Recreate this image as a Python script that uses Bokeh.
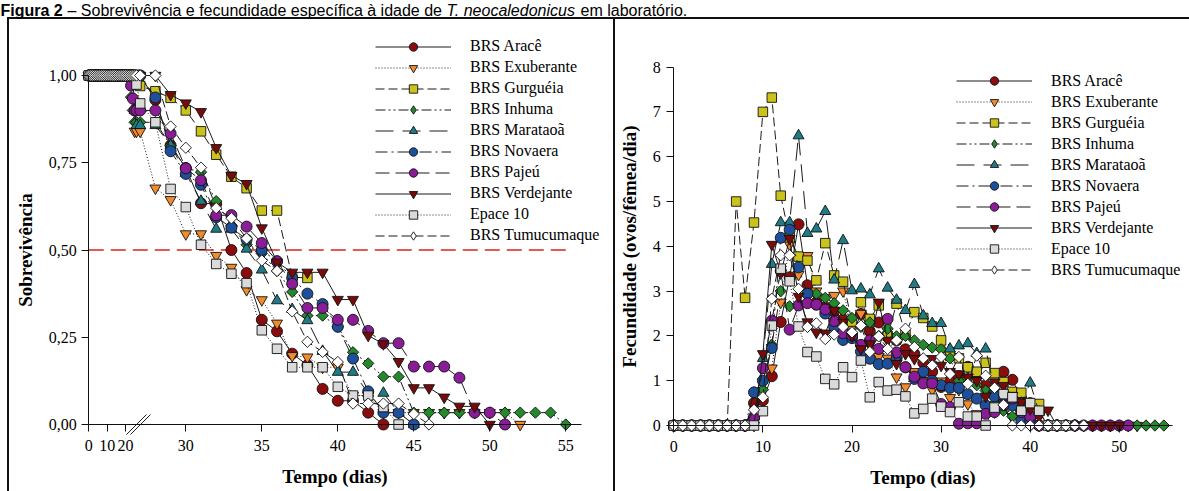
import math
from bokeh.plotting import figure
from bokeh.models import (Range1d, LinearAxis, FixedTicker, CustomJSTickFormatter,
                          Legend, LegendItem)
from bokeh.core.properties import value
from bokeh.embed import file_html
from bokeh.resources import INLINE

# ---------------------------------------------------------------- data
cultivars = ["BRS Aracê", "BRS Exuberante", "BRS Gurguéia", "BRS Inhuma", "BRS Marataoã",
             "BRS Novaera", "BRS Pajeú", "BRS Verdejante", "Epace 10", "BRS Tumucumaque"]

# survival (proportion alive), one value per day starting at day 0
surv_arace = [1.0] * 28 + [0.93, 0.80, 0.735, 0.634, 0.632, 0.50, 0.434, 0.30, 0.267, 0.203,
                           0.17, 0.102, 0.068, 0.068, 0.034, 0.0]
surv_exuberante = [1.0] * 25 + [0.84, 0.84, 0.84, 0.677, 0.644, 0.546, 0.546, 0.484, 0.45, 0.386,
                                0.357, 0.29, 0.197, 0.193, 0.164, 0.164, 0.083, 0.083, 0.034, 0.034,
                                0.034, 0.034, 0.034, 0.034, 0.034, 0.034, 0.034, 0.0]
surv_gurgueia = [1.0] * 27 + [0.97, 0.955, 0.936, 0.90, 0.84, 0.773, 0.71, 0.677, 0.613, 0.613,
                              0.422, 0.42]
surv_inhuma = [1.0] * 23 + [0.938, 0.90, 0.866, 0.866, 0.866, 0.866, 0.80, 0.735, 0.723, 0.64,
                            0.57, 0.515, 0.49, 0.44, 0.38, 0.312, 0.312, 0.28, 0.207, 0.175,
                            0.137, 0.137, 0.034, 0.034, 0.034, 0.034, 0.034, 0.034, 0.034, 0.034,
                            0.034, 0.034, 0.0]
surv_marataoa = [1.0] * 25 + [0.90, 0.857, 0.857, 0.857, 0.80, 0.72, 0.64, 0.56, 0.56, 0.503,
                              0.443, 0.355, 0.33, 0.298, 0.21, 0.15, 0.15, 0.09, 0.09, 0.034, 0.0]
surv_novaera = [1.0] * 28 + [0.937, 0.783, 0.718, 0.687, 0.594, 0.564, 0.53, 0.50, 0.467, 0.42,
                             0.375, 0.345, 0.28, 0.189, 0.095, 0.034, 0.034, 0.0]
surv_pajeu = [1.0] * 23 + [0.971, 0.934, 0.90, 0.90, 0.90, 0.90, 0.834, 0.734, 0.70, 0.599, 0.60,
                           0.567, 0.52, 0.468, 0.403, 0.334, 0.334, 0.30, 0.30, 0.268, 0.233,
                           0.233, 0.166, 0.166, 0.166, 0.134, 0.034, 0.034, 0.0]
surv_verdejante = [1.0] * 29 + [0.945, 0.921, 0.896, 0.793, 0.713, 0.69, 0.563, 0.465, 0.436,
                                0.436, 0.436, 0.358, 0.358, 0.255, 0.231, 0.18, 0.105, 0.105,
                                0.078, 0.052, 0.052, 0.0]
surv_epace10 = [1.0] * 26 + [0.974, 0.92, 0.866, 0.675, 0.623, 0.515, 0.46, 0.432, 0.405, 0.27,
                             0.217, 0.164, 0.164, 0.164, 0.108, 0.083, 0.083, 0.05, 0.0]
surv_tumucumaque = [1.0] * 29 + [0.854, 0.793, 0.736, 0.62, 0.591, 0.533, 0.47, 0.44, 0.324,
                                 0.237, 0.208, 0.179, 0.06, 0.06, 0.06, 0.06, 0.03, 0.0]

# fecundity (eggs/female/day), one value per day starting at day 0
fec_arace = [0.0] * 9 + [0.5, 0.56, 1.10, 2.31, 3.31, 4.49, 3.13, 2.75, 2.64, 2.55, 2.37, 2.0,
                         2.49, 2.10, 2.3, 2.0, 1.9, 1.7, 1.6, 1.4, 1.2, 0.86, 1.0, 1.1, 1.31, 1.11,
                         0.9, 0.8, 1.2, 1.02, 0.6, 0.5, 0.3, 0.0, 0.0]
fec_exuberante = [0.0] * 9 + [0.1, 0.97, 1.28, 2.75, 4.04, 3.37, 3.79, 3.0, 2.85, 2.90, 3.0, 2.2,
                              2.5, 1.8, 1.54, 1.5, 1.08, 0.86, 1.2, 1.0, 0.8, 0.99, 0.62, 0.8,
                              0.48, 0.26, 0.4, 0.3, 0.5, 0.2, 0.3, 0.1] + [0.0] * 12
fec_gurgueia = [0.0] * 7 + [5.0, 2.85, 4.53, 7.0, 7.32, 5.13, 4.2, 3.77, 3.68, 3.24, 4.07, 3.35,
                            3.21, 2.32, 2.75, 2.38, 2.68, 2.0, 2.72, 2.03, 2.53, 2.40, 2.21, 1.9,
                            1.56, 1.5, 1.3, 1.2, 1.40, 1.17, 0.97, 0.75, 0.73, 0.28, 0.48]
fec_inhuma = [0.0] * 9 + [0.2, 0.8, 1.8, 3.0, 2.66, 2.7, 2.95, 2.94, 2.85, 2.73, 2.57, 2.4, 2.2,
                          2.3, 2.0, 2.16, 1.99, 2.0, 1.9, 1.8, 1.74, 1.70, 1.5, 1.0, 1.05, 0.9,
                          0.78, 0.5, 0.33, 0.2, 0.15] + [0.0] * 16
fec_marataoa = [0.0] * 9 + [0.2, 1.5, 3.6, 4.53, 4.53, 6.47, 4.29, 4.39, 4.78, 3.25, 4.13, 3.01,
                            3.05, 2.92, 3.50, 3.07, 2.8, 2.57, 3.15, 2.45, 2.28, 2.28, 1.71, 1.78,
                            1.83, 1.61, 1.71, 0.8, 0.7, 0.6, 0.5, 0.95, 0.3] + [0.0] * 4
fec_novaera = [0.0] * 9 + [0.74, 1.0, 1.73, 4.19, 4.37, 3.53, 2.94, 2.70, 2.5, 2.2, 1.91, 1.95,
                           1.65, 1.49, 1.37, 1.38, 1.49, 1.3, 1.04, 1.2, 1.0, 0.9, 0.84, 0.84, 0.7,
                           0.6, 0.45, 0.65, 0.5, 0.45, 0.11, 0.1] + [0.0] * 5
fec_pajeu = [0.0] * 9 + [0.17, 1.28, 2.34, 3.45, 2.14, 2.68, 2.73, 2.70, 2.59, 2.33, 2.06, 2.01,
                         1.8, 1.9, 1.71, 2.38, 1.63, 1.30, 1.09, 0.94, 0.94, 0.48, 0.41, 0.04,
                         0.05, 0.05, 0.26, 0.3, 0.45, 0.6, 0.3, 0.2] + [0.0] * 11
fec_verdejante = [0.0] * 10 + [1.6, 4.04, 3.4, 4.17, 2.88, 2.31, 2.08, 2.06, 2.57, 2.3, 2.0, 1.71,
                               1.82, 2.75, 1.9, 1.38, 1.6, 1.49, 1.49, 1.49, 1.34, 1.2, 1.15,
                               1.08, 1.0, 0.65, 0.97, 0.89, 0.67, 0.52, 0.37, 0.2, 0.34] + [0.0] * 8
fec_epace10 = [0.0] * 10 + [0.32, 2.23, 3.50, 3.22, 2.21, 1.64, 1.54, 1.04, 0.92, 1.30, 1.08,
                            1.45, 0.63, 0.97, 0.78, 0.80, 0.65, 0.27, 0.37, 0.6, 0.42, 0.30, 0.52,
                            0.2, 0.2, 0.0, 0.4, 0.7, 0.63, 0.33, 0.5, 0.33] + [0.0] * 3
fec_tumucumaque = [0.0] * 9 + [0.35, 0.63, 2.83, 3.80, 3.80, 3.05, 2.20, 2.28, 1.93, 2.03, 2.2,
                               2.08, 2.23, 1.64, 1.99, 1.71, 1.9, 2.16, 1.75, 1.5, 1.34, 1.53,
                               1.15, 1.53, 0.93, 1.56, 1.11, 0.84, 0.46] + [0.0] * 9

surv_data = [surv_arace, surv_exuberante, surv_gurgueia, surv_inhuma, surv_marataoa,
             surv_novaera, surv_pajeu, surv_verdejante, surv_epace10, surv_tumucumaque]
fec_data = [fec_arace, fec_exuberante, fec_gurgueia, fec_inhuma, fec_marataoa,
            fec_novaera, fec_pajeu, fec_verdejante, fec_epace10, fec_tumucumaque]

surv_tick_values = [0.0, 0.25, 0.5, 0.75, 1.0]
surv_tick_days = [0, 10, 20, 30, 35, 40, 45, 50, 55]
surv_tick_labels = ["0", "10", "20", "30", "35", "40", "45", "50", "55"]
fec_tick_values = [0, 1, 2, 3, 4, 5, 6, 7, 8]
fec_tick_days = [0, 10, 20, 30, 40, 50]
median_survival = 0.5

caption_parts = ["Figura 2", "– Sobrevivência e fecundidade específica à idade de",
                 "T. neocaledonicus", "em laboratório."]
caption_styles = ["bold", "normal", "italic", "normal"]

# ---------------------------------------------------------------- styles
colors = ["#8a0c0c", "#f28a2e", "#cbc31c", "#23892a", "#1f7b86",
          "#1d4f9a", "#8a1c98", "#780a0a", "#dadada", "#ffffff"]
markers = ["circle", "inverted_triangle", "square", "diamond", "triangle",
           "circle", "circle", "inverted_triangle", "square", "diamond"]
dashes = ["solid", "1 2", "9 4", "10 3 2 3 2 3", "18 9", "12 4 2 4", "14 6", "solid", "1 2", "9 4"]

W, H = 1189, 491
OFF = 0   # the page template has no margin


def rng_h(v_a, px_a, ppu):
    return v_a + (OFF - px_a) / ppu, v_a + (OFF + W - px_a) / ppu


def rng_v(v_a, py_a, ppu):
    return v_a - (OFF + H - py_a) / ppu, v_a + (py_a - OFF) / ppu


# calibration (page pixels) of both panels
LX = (30, 185.3, 15.2)
LY = (0, 424.0, 349.0)
RX = (0, 673.3, 8.91)
RY = (0, 425.0, 44.8)


def px2lx(px):
    return LX[0] + (px - LX[1]) / LX[2]


def py2ly(py):
    return LY[0] - (py - LY[1]) / LY[2]


# broken time axis of the survival panel: days 0..26 compressed, then real scale
U0 = px2lx(88.3)
U20 = px2lx(125.0)


def surv_x(d):
    return U0 + d * (U20 - U0) / 20.0 if d <= 26 else float(d)


p = figure(width=W, height=H, x_range=Range1d(*rng_h(*LX)), y_range=Range1d(*rng_v(*LY)),
           x_axis_location=None, y_axis_location=None, toolbar_location=None,
           output_backend="svg", title=None, min_border=0)
p.extra_x_ranges = {"fx": Range1d(*rng_h(*RX))}
p.extra_y_ranges = {"fy": Range1d(*rng_v(*RY))}
p.outline_line_color = None
p.background_fill_color = "white"
p.border_fill_color = "white"
p.grid.visible = False

# panel frames
frame_col = "#111111"
p.line([px2lx(6.5), px2lx(1192)], [py2ly(17.5), py2ly(17.5)], line_color=frame_col, line_width=2)
for xx in (7.5, 613.5):
    p.line([px2lx(xx), px2lx(xx)], [py2ly(17.5), py2ly(495)], line_color=frame_col, line_width=2)

# caption line above the panels
caption_px = [0, 67, 446, 580]
for txt, style, xpx in zip(caption_parts, caption_styles, caption_px):
    p.text(x=[px2lx(xpx)], y=[py2ly(9.7)], text=[txt], text_font=value("Liberation Sans"),
           text_font_style=style, text_font_size="16px", text_color="black",
           text_align="left", text_baseline="alphabetic")

# median line
p.line([U0, 55], [median_survival, median_survival], line_color="#d7261e", line_width=1.3,
       line_dash="15 7")

left_items, right_items = [], []
for i, name in enumerate(cultivars):
    mk = markers[i]
    base = dict(fill_color=colors[i], line_color="#111111", line_width=0.9)
    kw = dict(base)
    if mk == "diamond":
        kw.update(marker="square", size=8, angle=math.pi / 4)
    elif mk == "square":
        kw.update(marker="square", size=9.5)
    elif mk in ("triangle", "inverted_triangle"):
        kw.update(marker=mk, size=11)
    else:
        kw.update(marker="circle", size=11)

    sv = surv_data[i]
    xs = [surv_x(d) for d in range(len(sv))]
    lr = p.line(xs, sv, line_color="#1a1a1a", line_width=1, line_dash=dashes[i])
    legend_r = []
    if mk == "diamond":
        # small diamond under the first point, used so the legend shows a diamond
        legend_r.append(p.scatter(xs[:1], sv[:1], marker="diamond", size=5, **base))
    sr = p.scatter(xs, sv, **kw)
    left_items.append(LegendItem(label=value(name), renderers=[lr] + (legend_r or [sr])))

    fv = fec_data[i]
    ds = list(range(len(fv)))
    lr2 = p.line(ds, fv, line_color="#1a1a1a", line_width=1, line_dash=dashes[i],
                 x_range_name="fx", y_range_name="fy")
    legend_r2 = []
    if mk == "diamond":
        legend_r2.append(p.scatter(ds[:1], fv[:1], marker="diamond", size=5,
                                   x_range_name="fx", y_range_name="fy", **base))
    sr2 = p.scatter(ds, fv, x_range_name="fx", y_range_name="fy", **kw)
    right_items.append(LegendItem(label=value(name), renderers=[lr2] + (legend_r2 or [sr2])))

# axis-break marks
for off in (0.0, 4.0):
    p.line([px2lx(126 + off), px2lx(146 + off)], [py2ly(434), py2ly(414)],
           line_color="#222222", line_width=1)


def style_axis(ax):
    ax.axis_line_color = "#111111"
    ax.axis_line_width = 1
    ax.major_tick_line_color = "#111111"
    ax.major_tick_in = 0
    ax.major_tick_out = 7
    ax.minor_tick_line_color = None
    ax.major_label_text_font = "Liberation Serif"
    ax.major_label_text_font_size = "16px"
    ax.major_label_text_color = "black"
    ax.axis_label_text_font = "Liberation Serif"
    ax.axis_label_text_font_style = "bold"
    ax.axis_label_text_font_size = "19px"
    ax.axis_label_text_color = "black"


ly = LinearAxis(fixed_location=U0, bounds=(0, 1), ticker=FixedTicker(ticks=surv_tick_values),
                formatter=CustomJSTickFormatter(code="return tick.toFixed(2).replace('.', ',');"),
                axis_label="Sobrevivência")
style_axis(ly)
ly.major_label_standoff = 5
ly.axis_label_standoff = 10
p.add_layout(ly, "left")

lx_ticks = [surv_x(d) for d in surv_tick_days]
lx = LinearAxis(fixed_location=0, bounds=(U0, 56), ticker=FixedTicker(ticks=lx_ticks),
                formatter=CustomJSTickFormatter(args=dict(vals=lx_ticks, labels=surv_tick_labels),
                                                code="""
const i = vals.findIndex(v => Math.abs(v - tick) < 1e-6);
return i >= 0 ? labels[i] : "";
"""),
                axis_label="Tempo (dias)")
style_axis(lx)
lx.major_label_standoff = 8
lx.axis_label_standoff = 12
p.add_layout(lx, "below")

ry = LinearAxis(x_range_name="fx", y_range_name="fy", fixed_location=0, bounds=(0, 8),
                ticker=FixedTicker(ticks=fec_tick_values), axis_label="Fecundidade (ovos/fêmea/dia)")
style_axis(ry)
ry.major_label_standoff = 6
ry.axis_label_standoff = 10
p.add_layout(ry, "left")

rx = LinearAxis(x_range_name="fx", y_range_name="fy", fixed_location=0, bounds=(0, 56),
                ticker=FixedTicker(ticks=fec_tick_days), axis_label="Tempo (dias)")
style_axis(rx)
rx.major_label_standoff = 8
rx.axis_label_standoff = 12
p.add_layout(rx, "below")


def add_legend(items, left_px, first_center_py):
    row_h, gap = 21, 0
    n = len(items)
    top_canvas = first_center_py - row_h / 2 - OFF
    bottom_canvas = top_canvas + n * row_h + (n - 1) * gap
    lg = Legend(items=items, location=(left_px - OFF, H - bottom_canvas),
                orientation="vertical", padding=0, margin=0, spacing=gap,
                glyph_width=76, glyph_height=row_h, label_height=row_h, label_standoff=19,
                label_text_font="Liberation Serif", label_text_font_size="16px",
                label_text_color="black", background_fill_alpha=0, border_line_color=None)
    p.add_layout(lg)


add_legend(left_items, 375, 46)
add_legend(right_items, 956, 80.7)

open("out.html", "w").write(file_html(p, INLINE))
